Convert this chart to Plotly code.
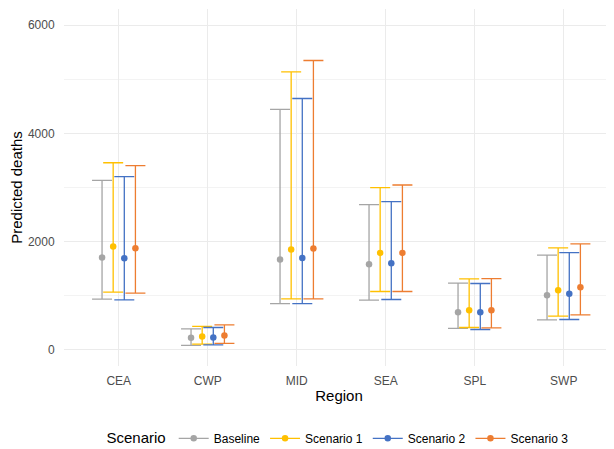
import plotly.graph_objects as go

regions = ["CEA", "CWP", "MID", "SEA", "SPL", "SWP"]
scenarios = ["Baseline", "Scenario 1", "Scenario 2", "Scenario 3"]
colors = ["#A5A5A5", "#FFC000", "#4472C4", "#ED7D31"]

baseline_mid = [1704, 222, 1667, 1582, 696, 1009]
baseline_low = [936, 80, 855, 917, 394, 554]
baseline_high = [3133, 388, 4443, 2683, 1231, 1748]

s1_mid = [1907, 246, 1852, 1791, 732, 1101]
s1_low = [1065, 105, 941, 1077, 412, 621]
s1_high = [3458, 431, 5138, 2996, 1311, 1883]

s2_mid = [1692, 228, 1698, 1600, 696, 1034]
s2_low = [923, 92, 855, 929, 375, 560]
s2_high = [3200, 412, 4645, 2738, 1225, 1797]

s3_mid = [1877, 265, 1870, 1791, 732, 1157]
s3_low = [1046, 117, 941, 1077, 406, 646]
s3_high = [3403, 462, 5348, 3046, 1317, 1957]

series = [
    (baseline_mid, baseline_low, baseline_high),
    (s1_mid, s1_low, s1_high),
    (s2_mid, s2_low, s2_high),
    (s3_mid, s3_low, s3_high),
]

dodge = 0.5
n = len(scenarios)
fig = go.Figure()
for j, (name, col, (mid, lo, hi)) in enumerate(zip(scenarios, colors, series)):
    off = (j - (n - 1) / 2) * dodge / n
    xs = [i + off for i in range(len(regions))]
    fig.add_trace(go.Scatter(
        x=xs, y=mid, mode="markers", name=name, showlegend=False,
        marker=dict(color=col, size=6.5),
        error_y=dict(type="data", symmetric=False,
                     array=[h - m for h, m in zip(hi, mid)],
                     arrayminus=[m - l for m, l in zip(mid, lo)],
                     color=col, thickness=1.3, width=10),
    ))
    fig.add_trace(go.Scatter(
        x=[None], y=[None], mode="lines+markers", name=name,
        line=dict(color=col, width=1.3), marker=dict(color=col, size=6.5),
    ))

font = "Liberation Sans, Arial, sans-serif"
fig.update_layout(
    width=606, height=441,
    margin=dict(l=56, r=0, t=1, b=83, autoexpand=False),
    paper_bgcolor="white", plot_bgcolor="white",
    font=dict(family=font, color="#000000"),
    xaxis=dict(
        range=[-0.615, 5.565], tickmode="array",
        tickvals=list(range(len(regions))), ticktext=regions,
        showgrid=True, gridcolor="#EBEBEB", gridwidth=1.1,
        zeroline=False, showline=False, automargin=True,
        tickfont=dict(size=12, color="#4D4D4D"),
        ticks="outside", ticklen=4, tickcolor="rgba(0,0,0,0)",
        title=dict(text="Region", font=dict(size=15, color="#000000"), standoff=3),
    ),
    yaxis=dict(
        range=[-300, 6300], tickmode="array",
        tickvals=[0, 2000, 4000, 6000], ticktext=["0", "2000", "4000", "6000"],
        showgrid=True, gridcolor="#EBEBEB", gridwidth=1.1,
        minor=dict(tickvals=[1000, 3000, 5000], showgrid=True,
                   gridcolor="#F3F3F3", gridwidth=0.6),
        zeroline=False, showline=False, automargin=True,
        tickfont=dict(size=12, color="#4D4D4D"),
        ticks="outside", ticklen=6, tickcolor="rgba(0,0,0,0)",
        title=dict(text="Predicted deaths", font=dict(size=15, color="#000000"), standoff=5),
    ),
    legend=dict(
        orientation="h", x=0.5, xanchor="center",
        yref="container", y=0.023, yanchor="middle",
        title=dict(text="Scenario", font=dict(size=15, color="#000000"), side="left"),
        font=dict(size=12, color="#000000"),
        itemwidth=30, tracegroupgap=0,
    ),
)

fig.write_html("out.html")
